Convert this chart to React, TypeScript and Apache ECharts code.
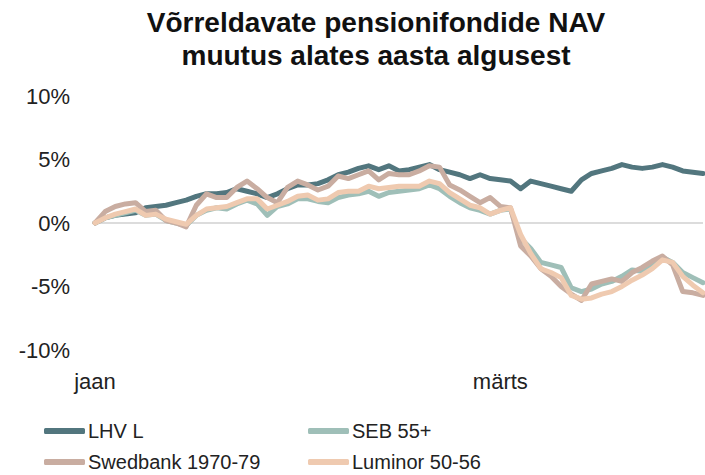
import React, { useEffect, useRef } from "react";
import * as echarts from "echarts";

// Trading days from early January to late March (index positions)
const dayIndex: string[] = Array.from({ length: 61 }, (_, i) => String(i + 1));
const monthTicks: Record<number, string> = { 0: "jaan", 40: "märts" };

const yTicks = [-10, -5, 0, 5, 10];

const seriesNames = ["LHV L", "SEB 55+", "Swedbank 1970-79", "Luminor 50-56"];

const lhvL = [
  0, 0.4, 0.6, 0.7, 0.8, 1.2, 1.3, 1.4, 1.6, 1.8,
  2.1, 2.3, 2.3, 2.4, 2.7, 2.5, 2.3, 2.0, 2.3, 2.7,
  3.0, 3.0, 3.1, 3.4, 3.8, 4.0, 4.3, 4.5, 4.2, 4.5,
  4.1, 4.2, 4.4, 4.6, 4.2, 4.0, 3.8, 3.5, 3.8, 3.5,
  3.4, 3.3, 2.7, 3.3, 3.1, 2.9, 2.7, 2.5, 3.4, 3.9,
  4.1, 4.3, 4.6, 4.4, 4.3, 4.4, 4.6, 4.4, 4.1, 4.0, 3.9,
];

const seb55 = [
  0, 0.4, 0.6, 0.8, 1.0, 0.6, 0.7, 0.2, 0.0, -0.2,
  0.6, 1.0, 1.2, 1.1, 1.5, 1.8, 1.5, 0.6, 1.3, 1.5,
  1.9, 1.9, 1.7, 1.6, 2.0, 2.2, 2.3, 2.5, 2.1, 2.4,
  2.5, 2.6, 2.7, 3.0, 2.7, 2.1, 1.6, 1.2, 1.0, 0.7,
  1.0, 1.1, -1.2, -2.0, -3.1, -3.3, -3.5, -5.1, -5.4, -5.2,
  -4.8, -4.6, -4.2, -3.7, -3.8, -3.3, -2.7, -3.1, -3.9, -4.3, -4.7,
];

const swedbank = [
  0, 0.9, 1.3, 1.5, 1.6, 0.9, 1.0, 0.2, 0.0, -0.3,
  1.4, 2.3, 2.0, 2.0, 2.8, 3.3, 2.7, 2.0, 1.6, 2.8,
  3.3, 3.0, 2.6, 2.9, 3.7, 3.5, 3.8, 4.1, 3.4, 3.9,
  3.8, 3.8, 4.1, 4.5, 4.4, 3.0, 2.6, 2.1, 1.6, 2.0,
  1.3, 1.2, -1.8, -2.6, -3.6, -4.2, -5.0, -5.6, -6.1, -4.8,
  -4.6, -4.4, -4.6, -3.9, -3.5, -3.0, -2.6, -3.3, -5.4, -5.5, -5.7,
];

const luminor = [
  0, 0.4, 0.7, 0.9, 1.1, 0.6, 0.7, 0.3, 0.1, -0.1,
  0.6, 1.1, 1.2, 1.3, 1.6, 1.9, 1.9, 1.1, 1.4, 1.7,
  2.1, 2.2, 1.8, 1.9, 2.4, 2.5, 2.5, 2.9, 2.7, 2.8,
  2.9, 2.9, 2.9, 3.3, 3.1, 2.4, 1.9, 1.4, 1.2, 0.7,
  1.0, 1.2, -0.9, -2.4, -3.6, -3.9, -4.3, -5.7, -6.0, -5.9,
  -5.6, -5.4, -5.0, -4.5, -4.1, -3.6, -2.9, -3.1, -4.2, -4.9, -5.5,
];

const colors = ["#52767e", "#9fbfb8", "#c9ada1", "#efcab0"];
const seriesData = [lhvL, seb55, swedbank, luminor];

export default function App() {
  const ref = useRef<HTMLDivElement>(null);

  useEffect(() => {
    document.body.style.margin = "0";
    if (!ref.current) return;
    const chart = echarts.init(ref.current, undefined, { renderer: "svg" });
    const font = "'Liberation Sans', Arial, sans-serif";
    const legendPos = [
      { left: 44, top: 421 },
      { left: 308, top: 421 },
      { left: 44, top: 452 },
      { left: 308, top: 452 },
    ];
    chart.setOption({
      animation: false,
      color: colors,
      graphic: [
        {
          type: "text",
          x: 376,
          y: 6,
          style: {
            text: "Võrreldavate pensionifondide NAV\nmuutus alates aasta algusest",
            textAlign: "center",
            textVerticalAlign: "top",
            font: `bold 28px ${font}`,
            lineHeight: 33,
            fill: "#111",
          },
        },
      ],
      legend: seriesNames.map((n, i) => ({
        data: [n],
        left: legendPos[i].left,
        top: legendPos[i].top,
        padding: 0,
        icon: "roundRect",
        itemWidth: 41,
        itemHeight: 6,
        selectedMode: false,
        textStyle: {
          fontSize: 20,
          fontFamily: font,
          color: "#222",
          padding: [0, 0, 0, -2],
        },
      })),
      grid: { left: 95, right: 2, top: 96, bottom: 125, containLabel: false },
      xAxis: {
        type: "category",
        data: dayIndex,
        boundaryGap: false,
        axisLine: { show: false, onZero: false },
        axisTick: { show: false },
        splitLine: { show: false },
        axisLabel: {
          interval: (idx: number) => monthTicks[idx] !== undefined,
          formatter: (_v: string, idx: number) => monthTicks[idx] ?? "",
          fontSize: 22,
          fontFamily: font,
          color: "#222",
          margin: 20,
        },
      },
      yAxis: {
        type: "value",
        min: yTicks[0],
        max: yTicks[yTicks.length - 1],
        interval: 5,
        axisLine: { show: false },
        axisTick: { show: false },
        splitLine: {
          show: true,
          lineStyle: {
            color: yTicks.map((t) => (t === 0 ? "#dcdcdc" : "rgba(0,0,0,0)")),
            width: 2,
          },
        },
        axisLabel: {
          formatter: (v: number) => `${v}%`,
          fontSize: 22,
          fontFamily: font,
          color: "#222",
          margin: 25,
        },
      },
      series: seriesNames.map((n, i) => ({
        name: n,
        type: "line",
        data: seriesData[i],
        showSymbol: false,
        symbol: "none",
        lineStyle: { width: 5, color: colors[i], cap: "round", join: "round" },
        itemStyle: { color: colors[i] },
      })),
    });
    return () => chart.dispose();
  }, []);

  return <div ref={ref} style={{ width: 705, height: 475 }} />;
}
